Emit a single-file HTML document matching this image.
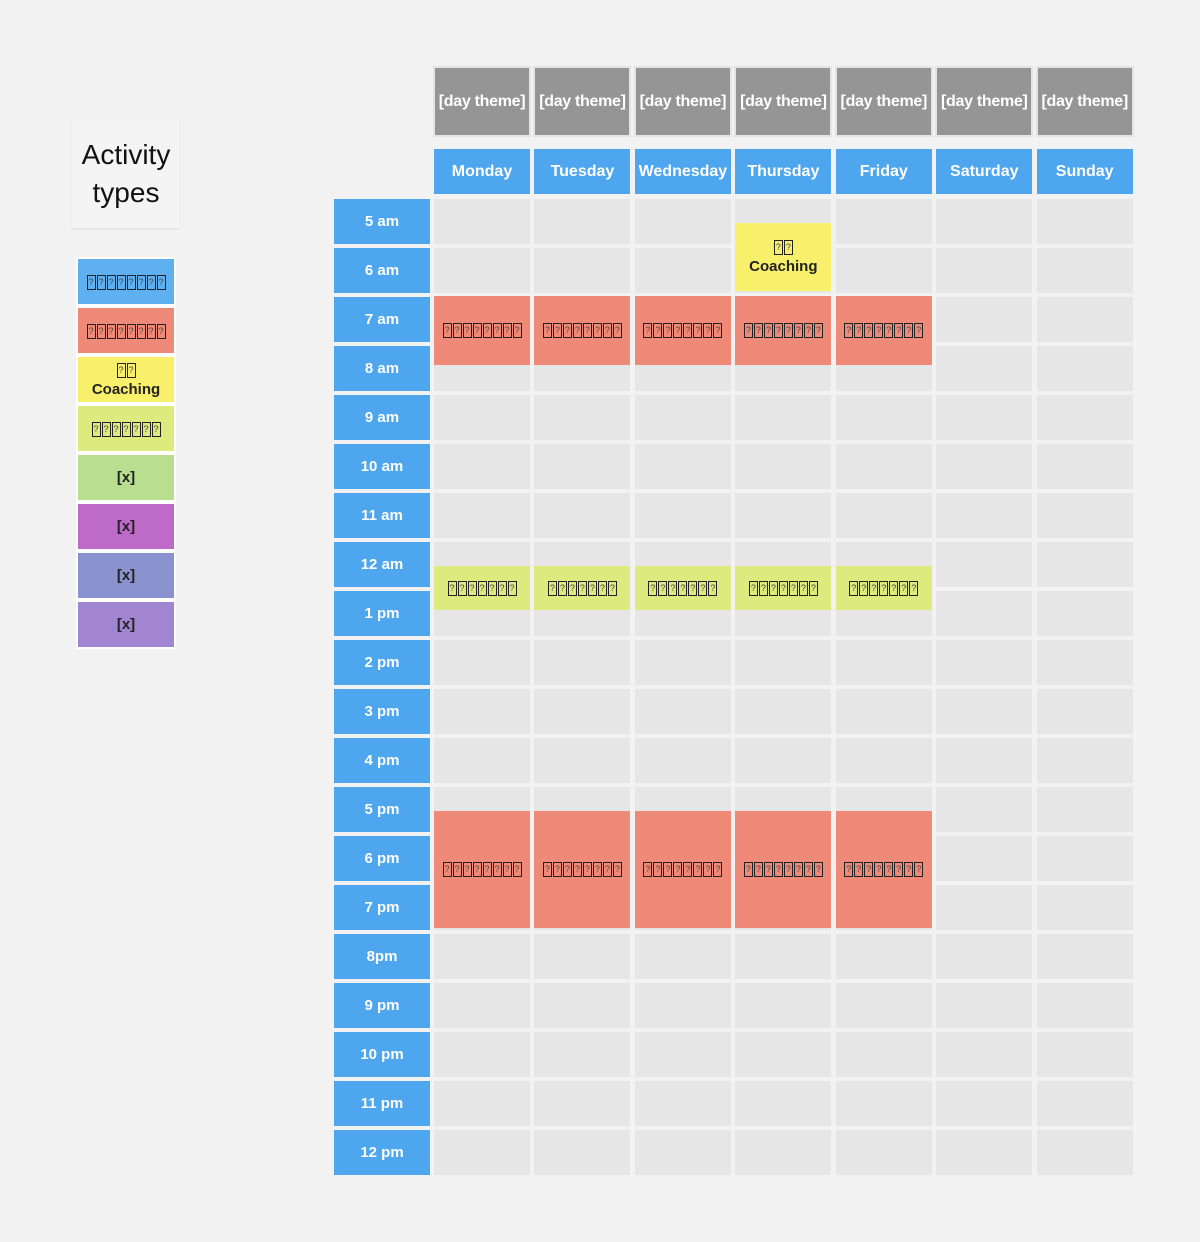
<!DOCTYPE html>
<html><head><meta charset="utf-8">
<style>
body{margin:0;width:1200px;height:1242px;background:#f2f2f2;font-family:"Liberation Sans","DejaVu Sans",sans-serif;position:relative;overflow:hidden}
.b{position:absolute;box-sizing:border-box;display:flex;align-items:center;justify-content:center;text-align:center;font-weight:bold;font-size:15px;line-height:19px}
.t{display:inline-block;width:7px;height:13px;border:1.5px solid #222;margin:0 0.5px;font-size:9px;line-height:12px;font-weight:normal;vertical-align:middle;color:#444;box-sizing:content-box}
</style></head><body>
<div class="b" style="left:72px;top:120px;width:108px;height:108px;background:#f4f4f5;font-weight:normal;font-size:28px;line-height:38px;color:#111;box-shadow:0 1px 2px rgba(0,0,0,.08)"><span>Activity<br>types</span></div>
<div id="root"></div>
<script>
const days=["Monday","Tuesday","Wednesday","Thursday","Friday","Saturday","Sunday"];
const times=["5 am","6 am","7 am","8 am","9 am","10 am","11 am","12 am","1 pm","2 pm","3 pm","4 pm","5 pm","6 pm","7 pm","8pm","9 pm","10 pm","11 pm","12 pm"];
const legendLabels=["????????","????????","??<br>Coaching","???????","[x]","[x]","[x]","[x]"];
const legendColors=["#5eb0f0","#ef8a78","#f8ef6a","#dcea7e","#b7df8f","#be6ac8","#8a92cf","#a185d0"];
const evDay=[3,0,1,2,3,4,0,1,2,3,4,0,1,2,3,4];
const evStart=[0.5,2,2,2,2,2,7.5,7.5,7.5,7.5,7.5,12.5,12.5,12.5,12.5,12.5];
const evDur=[1.4,1.4,1.4,1.4,1.4,1.4,0.9,0.9,0.9,0.9,0.9,2.4,2.4,2.4,2.4,2.4];
const evType=[2,1,1,1,1,1,3,3,3,3,3,1,1,1,1,1];
const X0=434,DX=100.45,CW=96,Y0=199,DY=49,CH=45;
const root=document.getElementById('root');
function fmt(l){return '<span>'+l.replace(/\?/g,'<span class="t">?</span>')+'</span>';}
function box(x,y,w,h,bg,html,color){const d=document.createElement('div');d.className='b';d.style.cssText=`left:${x}px;top:${y}px;width:${w}px;height:${h}px;background:${bg};color:${color||'#fff'}`;d.innerHTML=html;root.appendChild(d);return d;}
days.forEach((d,i)=>{
 const t=box(X0+i*DX-1,66,CW+2,71,'#959595','<span>[day theme]</span>','#fff');t.style.border='2px solid #e4e4e4';t.style.fontSize='16px';t.style.whiteSpace='nowrap';t.style.letterSpacing='-0.3px';
 
 
 const h=box(X0+i*DX,149,CW,45,'#4da6ee','<span>'+d+'</span>');h.style.fontSize='16px';
 
 
 times.forEach((tm,j)=>{const c=box(X0+i*DX,Y0+j*DY,CW,CH,'#e6e6e6','');
  
  });
});
times.forEach((tm,j)=>{const c=box(334,Y0+j*DY,96,CH,'#4da6ee','<span>'+tm+'</span>');
 
 });
legendLabels.forEach((l,k)=>{const c=box(78,259+k*49,96,45,legendColors[k],fmt(l),'#222');
 c.style.outline='2px solid #fff';
 
 });
evDay.forEach((d,k)=>{const t=evType[k];const c=box(X0+d*DX,Y0+evStart[k]*DY-1,CW,evDur[k]*DY,legendColors[t],fmt(legendLabels[t]),'#222');
 
 });
</script>
</body></html>
